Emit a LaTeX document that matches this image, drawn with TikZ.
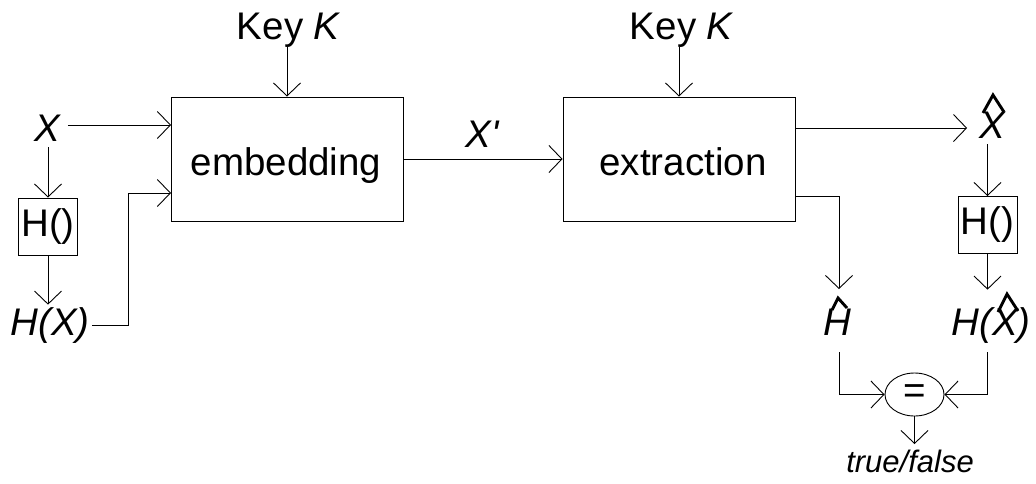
\documentclass[tikz,border=0pt]{standalone}
\usepackage{fontspec}
\setmainfont{Liberation Sans}
\usetikzlibrary{arrows.meta,shapes.geometric,calc}
\begin{document}
\begin{tikzpicture}[x=1pt,y=-1pt,
  font=\fontsize{38.5}{46}\selectfont,
  line width=0.9pt,
  arr/.style={-{Straight Barb[length=13pt,width=27pt,line width=0.9pt]}},
  block/.style={draw, rectangle, minimum width=232pt, minimum height=124pt, inner sep=0pt},
  hbox/.style={draw, rectangle, minimum width=59pt, minimum height=57pt, inner sep=0pt},
  lbl/.style={anchor=base, inner sep=2pt},
  hatline/.style={line width=2.9pt, line join=miter, line cap=butt},
]
\useasboundingbox (0,0) rectangle (1036,483);

% main blocks
\node[block] (emb) at (287,159) {};
\node[lbl] (embtext) at (286,175) {embedding};
\node[block] (ext) at (679,159) {};
\node[lbl] (exttext) at (683,175) {extraction};

% keys
\node[lbl, inner sep=0pt] (key1) at (289,39) {Key \textit{K}};
\node[lbl, inner sep=0pt] (key2) at (682,39) {Key \textit{K}};
\draw[arr] (emb.north |- key1.south) -- (emb.north);
\draw[arr] (ext.north |- key2.south) -- (ext.north);

% left side
\coordinate (in1) at (171,125);
\coordinate (in2) at (171,193);
\coordinate (bend1) at (128,193);
\node[lbl, inner sep=6pt] (X) at (48,141) {\textit{X}};
\draw[arr] (X.east |- in1) -- (in1);
\node[hbox] (h1) at (48,226.5) {H()};
\draw[arr] (X.south) -- (h1.north);
\node[lbl] (hx) at (50,335) {\textit{H(X)}};
\draw[arr] (h1.south) -- (h1.south |- hx.north);
\draw[arr] (hx.east) -| (bend1) -- (in2);

% middle
\node[lbl] (xp) at (483,147) {\textit{X\textquotesingle}};
\draw[arr] (emb.east) -- (ext.west);

% right side
\coordinate (out1) at (795,128);
\coordinate (out2) at (795,196);
\node[lbl, inner sep=6pt] (xh) at (993,138) {\textit{X}};
\draw[hatline] ($(xh.base)+(-10,-25)$) -- ($(xh.base)+(0,-43)$) -- ($(xh.base)+(11,-26)$);
\draw[arr] (out1) -- ($(out1 -| xh.west)+(-6,0)$);
\node[hbox] (h2) at (987.5,225) {H()};
\draw[arr] (h2.north |- xh.south) -- (h2.north);
\node[lbl] (hxh) at (991,335) {\textit{H(X)}};
\draw[hatline] ($(hxh.base)+(7,-23)$) -- ($(hxh.base)+(16,-41)$) -- ($(hxh.base)+(27,-24)$);
\draw[arr] (h2.south) -- ($(h2.south |- hxh.north)+(0,-15)$);
\node[lbl] (hh) at (837,335) {\textit{H}};
\draw[hatline] ($(hh.base)+(-5,-25)$) -- ($(hh.base)+(1,-37)$) -- ($(hh.base)+(10,-27)$);
\draw[arr] (out2) -| ($(hh.north)+(2,-17)$);

% comparison
\node[draw, ellipse, minimum width=59pt, minimum height=43pt, inner sep=0pt] (eq) at (914.5,394.5) {=};
\draw[arr] ($(hh.south)+(2,15)$) |- (eq.west);
\draw[arr] ($(hxh.south -| h2.south)+(0,7)$) |- (eq.east);
\node[lbl, font=\fontsize{31}{37}\selectfont\itshape] (tf) at (910,472) {true/false};
\draw[arr] (eq.south) -- ($(eq.south |- tf.north)+(0,-3)$);
\end{tikzpicture}
\end{document}
